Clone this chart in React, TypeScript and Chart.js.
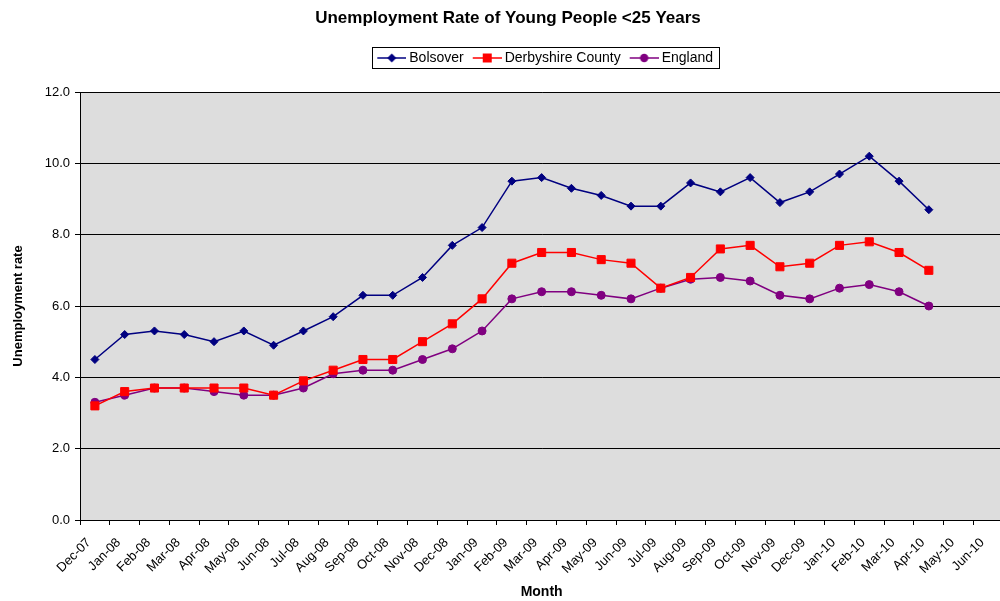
import React, { useEffect, useRef } from 'react';
import { Chart, registerables } from 'chart.js';

Chart.register(...registerables);

const FONT = "'Liberation Sans', Arial, Helvetica, sans-serif";

const months = [
  'Dec-07', 'Jan-08', 'Feb-08', 'Mar-08', 'Apr-08', 'May-08', 'Jun-08', 'Jul-08',
  'Aug-08', 'Sep-08', 'Oct-08', 'Nov-08', 'Dec-08', 'Jan-09', 'Feb-09', 'Mar-09',
  'Apr-09', 'May-09', 'Jun-09', 'Jul-09', 'Aug-09', 'Sep-09', 'Oct-09', 'Nov-09',
  'Dec-09', 'Jan-10', 'Feb-10', 'Mar-10', 'Apr-10', 'May-10', 'Jun-10',
];

const bolsover = [
  4.5, 5.2, 5.3, 5.2, 5.0, 5.3, 4.9, 5.3, 5.7, 6.3, 6.3, 6.8, 7.7, 8.2, 9.5,
  9.6, 9.3, 9.1, 8.8, 8.8, 9.45, 9.2, 9.6, 8.9, 9.2, 9.7, 10.2, 9.5, 8.7,
];

const derbyshire = [
  3.2, 3.6, 3.7, 3.7, 3.7, 3.7, 3.5, 3.9, 4.2, 4.5, 4.5, 5.0, 5.5, 6.2, 7.2,
  7.5, 7.5, 7.3, 7.2, 6.5, 6.8, 7.6, 7.7, 7.1, 7.2, 7.7, 7.8, 7.5, 7.0,
];

const england = [
  3.3, 3.5, 3.7, 3.7, 3.6, 3.5, 3.5, 3.7, 4.1, 4.2, 4.2, 4.5, 4.8, 5.3, 6.2,
  6.4, 6.4, 6.3, 6.2, 6.5, 6.75, 6.8, 6.7, 6.3, 6.2, 6.5, 6.6, 6.4, 6.0,
];

const seriesNames = ['Bolsover', 'Derbyshire County', 'England'];
const seriesColors = ['#000080', '#FF0000', '#800080'];
const seriesShapes = ['rectRot', 'rect', 'circle'];
const seriesRadius = [4, 5.7, 4];

const yMin = 0;
const yMax = 12;
const yStep = 2;

// Legend sample: a short line with the series marker in its middle
function makeGlyph(color: string, shape: string): HTMLCanvasElement {
  const c = document.createElement('canvas');
  c.width = 40;
  c.height = 14;
  const g = c.getContext('2d') as CanvasRenderingContext2D;
  g.strokeStyle = color;
  g.fillStyle = color;
  g.lineWidth = 1.5;
  g.beginPath();
  g.moveTo(11, 7);
  g.lineTo(40, 7);
  g.stroke();
  const cx = 25.5;
  const cy = 7;
  g.beginPath();
  if (shape === 'rectRot') {
    g.moveTo(cx, cy - 4.5);
    g.lineTo(cx + 4.5, cy);
    g.lineTo(cx, cy + 4.5);
    g.lineTo(cx - 4.5, cy);
    g.closePath();
  } else if (shape === 'rect') {
    g.rect(cx - 4.5, cy - 4.5, 9, 9);
  } else {
    g.arc(cx, cy, 4.2, 0, Math.PI * 2);
  }
  g.fill();
  return c;
}

const plotBackground = {
  id: 'plotBackground',
  beforeDraw(chart: any) {
    const { ctx, chartArea } = chart;
    ctx.save();
    ctx.fillStyle = '#DDDDDD';
    ctx.fillRect(chartArea.left, chartArea.top, chartArea.right - chartArea.left, chartArea.bottom - chartArea.top);
    ctx.restore();
  },
};

const legendBorder = {
  id: 'legendBorder',
  afterDraw(chart: any) {
    const legend = chart.legend;
    if (!legend || !legend.legendHitBoxes || !legend.legendHitBoxes.length) return;
    const hb = legend.legendHitBoxes;
    const first = hb[0];
    const last = hb[hb.length - 1];
    const left = Math.round(first.left + 2) + 0.5;
    const right = Math.round(last.left + last.width + 6) + 0.5;
    const top = Math.round(first.top - 4) + 0.5;
    const bottom = Math.round(first.top + first.height + 3) + 0.5;
    const { ctx } = chart;
    ctx.save();
    ctx.strokeStyle = '#000';
    ctx.lineWidth = 1;
    ctx.strokeRect(left, top, right - left, bottom - top);
    ctx.restore();
  },
};

export default function App() {
  const canvasRef = useRef<HTMLCanvasElement | null>(null);

  useEffect(() => {
    const canvas = canvasRef.current;
    if (!canvas) return;
    const glyphs = seriesNames.map((_, i) => makeGlyph(seriesColors[i], seriesShapes[i]));
    const values = [bolsover, derbyshire, england];

    const chart = new Chart(canvas, {
      type: 'line',
      data: {
        labels: months,
        datasets: seriesNames.map((name, i) => ({
          label: name,
          data: values[i],
          borderColor: seriesColors[i],
          backgroundColor: seriesColors[i],
          borderWidth: 1.5,
          pointStyle: seriesShapes[i] as any,
          pointRadius: seriesRadius[i],
          pointBorderWidth: 1,
          pointBackgroundColor: seriesColors[i],
          pointBorderColor: seriesColors[i],
          tension: 0,
          fill: false,
        })),
      },
      options: {
        responsive: false,
        animation: false,
        devicePixelRatio: 1,
        events: [],
        layout: { padding: { left: 6, top: 0, right: 0, bottom: 0 } },
        plugins: {
          tooltip: { enabled: false },
          title: {
            display: true,
            text: 'Unemployment Rate of Young People <25 Years',
            color: '#000',
            font: { family: FONT, size: 17, weight: 'bold' },
            padding: { top: 7.8, bottom: 20.8 },
            fullSize: true,
          },
          subtitle: {
            display: true,
            text: '',
            position: 'top',
            weight: 500,
            font: { family: FONT, size: 1, lineHeight: 1 },
            padding: { top: 16, bottom: 0 },
          },
          legend: {
            display: true,
            position: 'top',
            fullSize: false,
            labels: {
              usePointStyle: true,
              pointStyleWidth: 32,
              padding: 2,
              color: '#000',
              font: { family: FONT, size: 14 },
              generateLabels: (c: any) => {
                const items = (Chart.defaults.plugins.legend.labels as any).generateLabels(c);
                return items.map((it: any, i: number) => ({ ...it, pointStyle: glyphs[i] }));
              },
            },
          },
        },
        scales: {
          x: {
            type: 'category',
            offset: true,
            grid: {
              display: true,
              offset: true,
              drawOnChartArea: false,
              drawTicks: true,
              tickLength: 5,
              color: '#000',
            },
            border: { display: true, color: '#000', width: 1 },
            ticks: {
              autoSkip: false,
              minRotation: 45,
              maxRotation: 45,
              padding: 10,
              labelOffset: -6,
              color: '#000',
              font: { family: FONT, size: 13 },
            },
            title: {
              display: true,
              text: 'Month',
              color: '#000',
              font: { family: FONT, size: 14, weight: 'bold' },
              padding: { top: 0, bottom: 0.2 },
            },
            afterFit: (s: any) => {
              s.height = 81;
              s.paddingLeft = 0;
              s.paddingRight = 0;
            },
          },
          y: {
            min: yMin,
            max: yMax,
            ticks: {
              stepSize: yStep,
              padding: 5,
              color: '#000',
              font: { family: FONT, size: 13 },
              callback: (v: any) => Number(v).toFixed(1),
            },
            grid: { color: '#000', lineWidth: 1, tickLength: 5, drawTicks: true },
            border: { display: true, color: '#000', width: 1 },
            title: {
              display: true,
              text: 'Unemployment rate',
              color: '#000',
              font: { family: FONT, size: 13, weight: 'bold' },
              padding: { top: 4.7, bottom: 0 },
            },
            afterFit: (s: any) => {
              s.width = 74;
            },
          },
        },
      } as any,
      plugins: [plotBackground, legendBorder],
    });

    return () => {
      chart.destroy();
    };
  }, []);

  return (
    <div
      style={{
        position: 'absolute',
        left: 0,
        top: 0,
        width: 1000,
        height: 601,
        overflow: 'hidden',
        background: '#fff',
      }}
    >
      <canvas ref={canvasRef} width={1010} height={601} style={{ display: 'block' }} />
    </div>
  );
}
